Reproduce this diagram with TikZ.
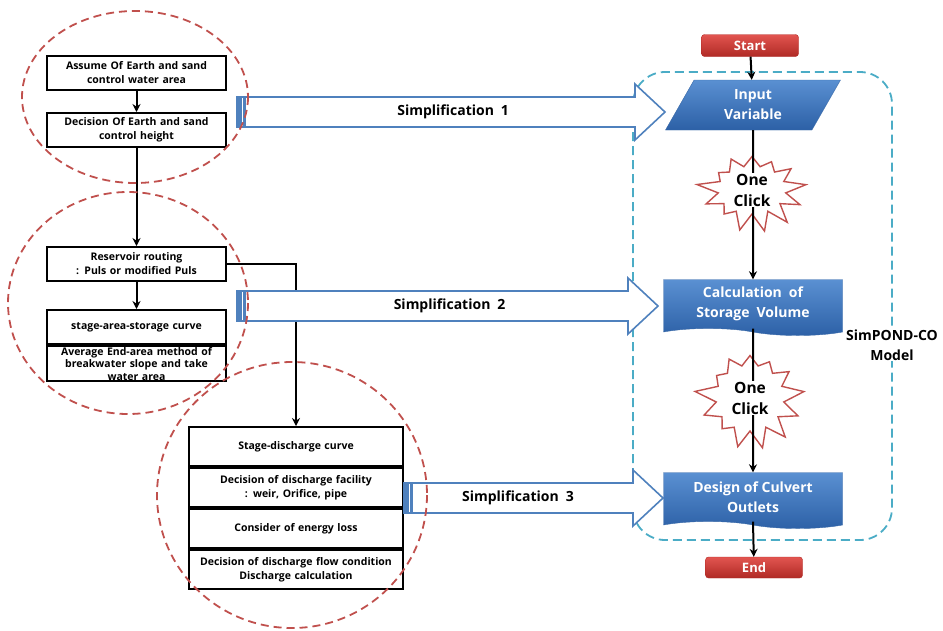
\documentclass[tikz,border=0pt]{standalone}
\usepackage{fontspec}
\setmainfont{Open Sans}
\usetikzlibrary{arrows.meta,positioning,calc,shapes.geometric,shapes.symbols}
\definecolor{ovred}{HTML}{C0504D}
\definecolor{ovteal}{HTML}{4BACC6}
\definecolor{sgblue}{HTML}{4F81BD}
\definecolor{bxtop}{HTML}{5A90D2}
\definecolor{bxbot}{HTML}{2C60A6}
\definecolor{bxedge}{HTML}{3A6AA8}
\definecolor{rdtop}{HTML}{E25550}
\definecolor{rdbot}{HTML}{B02A25}

% block arrow: tail, tip, label position, label
\newcommand{\simparrow}[4]{%
  \draw[sgblue,line width=1.6pt,fill=white] let \p1=(#1), \p2=(#2) in
    (\x1,\y1+15pt) -- (\x2-30pt,\y1+15pt) -- (\x2-30pt,\y1+28pt) -- (\x2,\y1)
    -- (\x2-30pt,\y1-28pt) -- (\x2-30pt,\y1-15pt) -- (\x1,\y1-15pt) -- cycle;
  \fill[sgblue] let \p1=(#1) in (\x1,\y1-15pt) rectangle (\x1+9pt,\y1+15pt);
  \draw[white,line width=0.9pt] let \p1=(#1) in (\x1+5pt,\y1-14pt) -- (\x1+5pt,\y1+14pt);
  \node[font=\fontsize{14}{16}\selectfont\bfseries] at ($(#1)!#3!(#2)$) {#4};
}

\begin{document}
\begin{tikzpicture}[x=1pt,y=-1pt,
  flow/.style={line width=2pt,-{Stealth[length=8pt,width=8pt]}},
  leftbox/.style={draw,line width=2pt,fill=white,minimum width=179pt,
    minimum height=34pt,text width=176pt,align=center,inner sep=1pt,
    font=\fontsize{10.5}{14}\selectfont\bfseries},
  bluebox/.style={tape,tape bend top=none,tape bend bottom=out and in,
    tape bend height=7pt,draw=bxedge,top color=bxtop,bottom color=bxbot,
    minimum width=179pt,minimum height=56pt,text=white,align=center,
    font=\fontsize{14}{20}\selectfont\bfseries},
  termbox/.style={rounded corners=3pt,draw=rdbot,top color=rdtop,bottom color=rdbot,
    minimum width=97pt,minimum height=22pt,inner sep=0pt,text=white,
    font=\fontsize{13}{14}\selectfont\bfseries},
  burst/.style={starburst,starburst points=13,starburst point height=22pt,
    random starburst=42,draw=ovred,line width=1.4pt,fill=white},
  clicktext/.style={fill=white,inner sep=1pt,align=center,
    font=\fontsize{15.5}{21}\selectfont\bfseries},
  ring/.style={ovred,line width=1.8pt,dash pattern=on 8pt off 5pt}]

  \useasboundingbox (0,0) rectangle (943,630);

  % model frame
  \draw[ovteal,line width=1.8pt,dash pattern=on 9pt off 5pt,rounded corners=32pt]
        (633,72) rectangle (892,540);

  % ===== left side: manual procedure =====
  \node[leftbox] (assume) at (136.5,72.5) {Assume Of Earth and sand\\control water area};
  \node[leftbox] (decide) at (136.5,130) {Decision Of Earth and sand\\control height};
  \node[leftbox] (routing) at (136.5,264) {Reservoir routing\\: Puls or modified Puls};
  \node[leftbox] (curve) at (136.5,327) {stage-area-storage curve};
  \node[leftbox,below=0pt of curve,font=\fontsize{10.5}{12.5}\selectfont\bfseries]
        (average) {Average End-area method of\\breakwater slope and take\\water area};

  \node[leftbox,minimum width=214pt,text width=210pt,minimum height=39pt]
        (stage) at (296,446.5) {Stage-discharge curve};
  \node[leftbox,minimum width=214pt,text width=210pt,minimum height=39pt,below=0pt of stage]
        (facility) {Decision of discharge facility\\: weir, Orifice, pipe};
  \node[leftbox,minimum width=214pt,text width=210pt,minimum height=39pt,below=0pt of facility]
        (energy) {Consider of energy loss};
  \node[leftbox,minimum width=214pt,text width=210pt,minimum height=39pt,below=0pt of energy]
        (flowcond) {Decision of discharge flow condition\\Discharge calculation};

  \draw[flow] (assume) -- (decide);
  \draw[flow] (decide) -- (routing);
  \draw[flow] (routing) -- (curve);
  \draw[flow] (routing.east) -| (stage.north);

  % ===== simplification arrows =====
  \coordinate (s1tail) at (237,112);
  \coordinate (s1tip) at (665,112);
  \coordinate (s2tail) at (237,306);
  \coordinate (s2tip) at (658,306);
  \coordinate (s3tail) at (404,498);
  \coordinate (s3tip) at (663,498);
  \simparrow{s1tail}{s1tip}{0.505}{Simplification\enspace 1}
  \simparrow{s2tail}{s2tip}{0.505}{Simplification\enspace 2}
  \simparrow{s3tail}{s3tip}{0.44}{Simplification\enspace 3}

  % ===== right side: SimPOND-CO =====
  \node[termbox] (start) at (750,45.5) {Start};
  \node[trapezium,trapezium left angle=67,trapezium right angle=113,
        trapezium stretches=true,minimum width=176pt,minimum height=50pt,
        draw=bxedge,top color=bxtop,bottom color=bxbot,text=white,align=center,
        font=\fontsize{14}{20}\selectfont\bfseries]
        (input) at (753,105) {Input\\Variable};
  \node[burst,minimum width=112pt,minimum height=92pt] (click1) at (752,190) {};
  \node[bluebox] (calc) at (753,304) {Calculation\enspace of\\Storage\enspace Volume};
  \node[burst,minimum width=112pt,minimum height=110pt] (click2) at (750,398) {};
  \node[bluebox] (design) at (753,497) {Design of Culvert\\Outlets};
  \node[termbox,minimum height=21pt] (end) at (754,567.5) {End};

  \draw[flow] (start) -- (input);
  \draw[flow] (input) -- (calc);
  \draw[flow] (calc.south) -- (design);
  \draw[flow] (design.south) -- (end);

  \node[clicktext] (click1t) at (click1) {One\\Click};
  \node[clicktext] (click2t) at (click2) {One\\Click};

  \node[fill=white,inner sep=1pt,align=center,font=\fontsize{14}{20}\selectfont\bfseries]
        (model) at (892,345) {SimPOND-CO\\Model};

  % ===== grouping rings =====
  \draw[ring] (135,97) ellipse [x radius=113, y radius=86];
  \draw[ring] (128,303) ellipse [x radius=120, y radius=111];
  \draw[ring] (292,495) ellipse [x radius=135, y radius=133];

\end{tikzpicture}
\end{document}
